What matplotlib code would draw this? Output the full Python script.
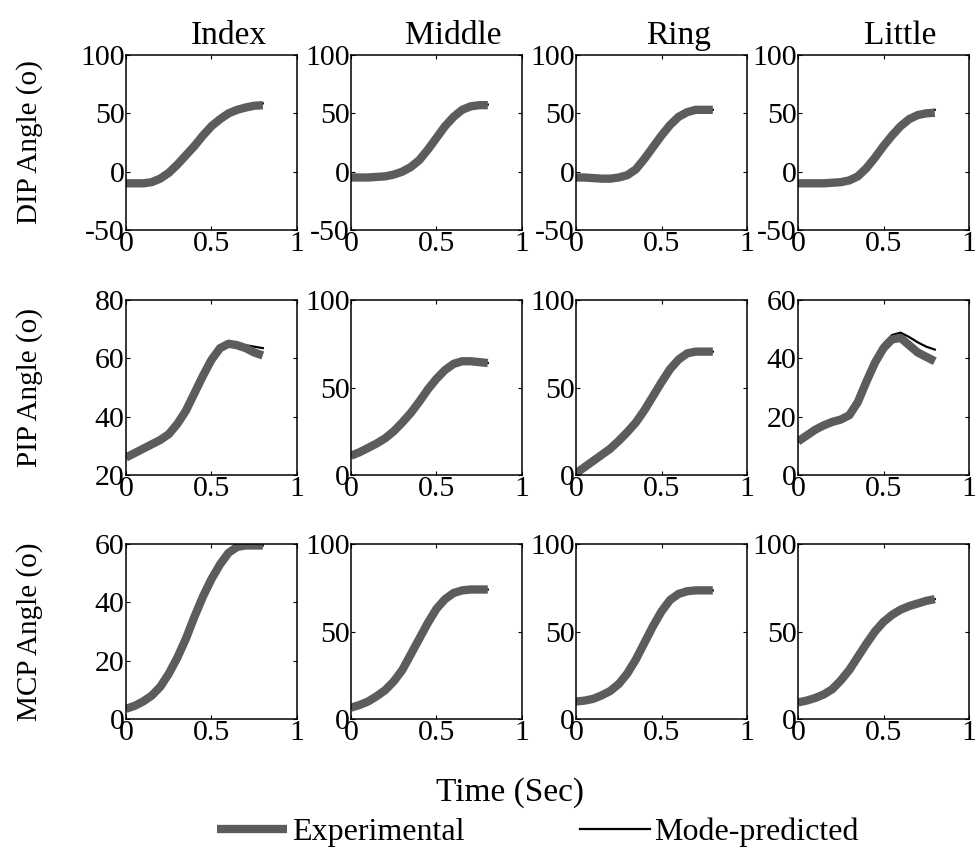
#!/usr/bin/env python3
"""
finger joint angles: experimental vs mode-predicted
"""
import numpy as np
import matplotlib
matplotlib.use('Agg')
import matplotlib.pyplot as plt
from matplotlib.lines import Line2D

plt.rcParams['font.family'] = 'serif'
plt.rcParams['font.serif'] = ['Liberation Serif', 'DejaVu Serif']
plt.rcParams['axes.unicode_minus'] = False

FS_TICK = 21.5
FS_TITLE = 24
FS_YLAB = 21
FS_XLAB = 24
FS_LEG = 23

time = [0.0, 0.05, 0.1, 0.15, 0.2, 0.25, 0.3, 0.35, 0.4,
        0.45, 0.5, 0.55, 0.6, 0.65, 0.7, 0.75, 0.8]

fingers = ['Index', 'Middle', 'Ring', 'Little']
joints = ['DIP', 'PIP', 'MCP']

# DIP angles (deg)
dip_index_exp = [-10, -10, -10, -9, -6, -1, 6, 14, 22, 31, 39, 45, 50, 53, 55, 56.5, 57]
dip_index_pred = [-10, -10, -10, -9, -6, -1, 6, 14, 22, 31, 39, 45, 50, 53, 55.5, 57.5, 58.5]
dip_middle_exp = [-5, -5, -5, -4.5, -4, -2.5, 0, 4, 10, 19, 29, 39, 47, 53, 56, 57, 57]
dip_middle_pred = [-5, -5, -5, -4.5, -4, -2.5, 0, 4, 10, 19, 29, 39, 47, 53, 56, 57, 57.5]
dip_ring_exp = [-5, -5, -5.5, -6, -6, -5, -3, 2, 11, 21, 31, 40, 47, 51, 53, 53, 53]
dip_ring_pred = [-5, -5, -5.5, -6, -6, -5, -3, 2, 11, 21, 31, 40, 47, 51, 53, 53, 53]
dip_little_exp = [-10, -10, -10, -10, -9.5, -9, -7.5, -4, 3, 12, 22, 31, 39, 45, 48.5, 50, 50.5]
dip_little_pred = [-10, -10, -10, -10, -9.5, -9, -7.5, -4, 3, 12, 22, 31, 39, 45, 49.5, 52, 53]

# PIP angles (deg)
pip_index_exp = [26, 27.5, 29, 30.5, 32, 34, 37.5, 42, 48, 54, 59.5, 63.5, 65, 64.5, 63.5, 62, 61]
pip_index_pred = [26, 27.5, 29, 30.5, 32, 34, 37.5, 42, 48, 54, 59.5, 63.5, 65, 65, 64.5, 64, 63.5]
pip_middle_exp = [11, 13, 15.5, 18, 21, 25, 30, 35.5, 42, 49, 55, 60, 63.5, 65, 65, 64.5, 64]
pip_middle_pred = [11, 13, 15.5, 18, 21, 25, 30, 35.5, 42, 49, 55, 60, 63.5, 65, 65, 64.5, 64]
pip_ring_exp = [1, 4.5, 8, 11.5, 15, 19.5, 24.5, 30, 37, 45, 53, 60.5, 66, 69.5, 70.5, 70.5, 70.5]
pip_ring_pred = [1, 4.5, 8, 11.5, 15, 19.5, 24.5, 30, 37, 45, 53, 60.5, 66, 69.5, 70.5, 70.5, 70.5]
pip_little_exp = [11.5, 13.5, 15.5, 17, 18.2, 19, 20.5, 25, 32, 38.5, 43.5, 46.5, 47, 44.5, 42, 40.5, 39]
pip_little_pred = [11.5, 13.5, 15.5, 17, 18.5, 19.5, 21, 25.5, 32.5, 39.5, 45, 48, 48.8, 47.3, 45.5, 44, 43]

# MCP angles (deg)
mcp_index_exp = [3.5, 4.5, 6, 8, 11, 15.5, 21, 27.5, 35, 42, 48, 53, 57, 59, 59.5, 59.5, 59.5]
mcp_index_pred = [3.5, 4.5, 6, 8, 11, 15.5, 21, 27.5, 35, 42, 48, 53, 57, 59, 59.5, 59.5, 59.5]
mcp_middle_exp = [6.5, 8, 10, 13, 16.5, 21.5, 28, 37, 46, 55, 63, 68.5, 72, 73.5, 74, 74, 74]
mcp_middle_pred = [6.5, 8, 10, 13, 16.5, 21.5, 28, 37, 46, 55, 63, 68.5, 72, 73.5, 74, 74, 74]
mcp_ring_exp = [10, 10.5, 11.5, 13.5, 16, 20, 26, 34, 43.5, 53, 61.5, 68, 71.5, 73, 73.5, 73.5, 73.5]
mcp_ring_pred = [10, 10.5, 11.5, 13.5, 16, 20, 26, 34, 43.5, 53, 61.5, 68, 71.5, 73, 73.5, 73.5, 73.5]
mcp_little_exp = [9.5, 10.5, 12, 14, 17, 22, 28, 35.5, 43, 50, 55.5, 59.5, 62.5, 64.5, 66, 67.5, 68.5]
mcp_little_pred = [9.5, 10.5, 12, 14, 17, 22, 28, 35.5, 43, 50, 55.5, 59.5, 62.5, 64.5, 66, 67.5, 68.5]

exp_data = [[dip_index_exp, dip_middle_exp, dip_ring_exp, dip_little_exp],
            [pip_index_exp, pip_middle_exp, pip_ring_exp, pip_little_exp],
            [mcp_index_exp, mcp_middle_exp, mcp_ring_exp, mcp_little_exp]]
pred_data = [[dip_index_pred, dip_middle_pred, dip_ring_pred, dip_little_pred],
             [pip_index_pred, pip_middle_pred, pip_ring_pred, pip_little_pred],
             [mcp_index_pred, mcp_middle_pred, mcp_ring_pred, mcp_little_pred]]

yticks = [[[-50, 0, 50, 100]] * 4,
          [[20, 40, 60, 80], [0, 50, 100], [0, 50, 100], [0, 20, 40, 60]],
          [[0, 20, 40, 60], [0, 50, 100], [0, 50, 100], [0, 50, 100]]]

# layout in pixels
W, H = 977, 857
col_left = [126, 351, 576, 798]
row_top = [55, 300, 544]
aw, ah = 171, 175

GRAY = '#5c5c5c'
BAND_LW = 6

fig = plt.figure(figsize=(W / 100, H / 100), dpi=100)

for r in range(3):
    for c in range(4):
        ax = fig.add_axes([col_left[c] / W, 1 - (row_top[r] + ah) / H, aw / W, ah / H])
        # predicted line underneath, thick experimental band drawn over it
        ax.plot(time, pred_data[r][c], color='black', lw=1.6)
        ax.plot(time, exp_data[r][c], color=GRAY, lw=BAND_LW, solid_capstyle='butt')
        yt = yticks[r][c]
        ax.set_ylim(yt[0], yt[-1])
        ax.set_yticks(yt)
        ax.set_xlim(0, 1)
        ax.set_xticks([0, 0.5, 1])
        ax.set_xticklabels(['0', '0.5', '1'])
        ax.tick_params(direction='in', length=3, width=0.8, top=True, right=True,
                       labelsize=FS_TICK, pad=1)
        ax.tick_params(axis='x', pad=1)
        for s in ax.spines.values():
            s.set_linewidth(1.1)
        if r == 0:
            ax.set_title(fingers[c], fontsize=FS_TITLE, x=0.6, pad=8)

for r in range(3):
    yc = row_top[r] + ah / 2
    fig.text(30 / W, 1 - yc / H, joints[r] + ' Angle (o)', rotation=90,
             ha='center', va='center', fontsize=FS_YLAB)

fig.text(510 / W, 1 - 793 / H, 'Time (Sec)', ha='center', va='center', fontsize=FS_XLAB)

handles = [Line2D([], [], color=GRAY, lw=BAND_LW, solid_capstyle='butt'),
           Line2D([], [], color='black', lw=1.6)]
fig.legend(handles, ['Experimental', 'Mode-predicted'], loc='center',
           bbox_to_anchor=(538 / W, 1 - 832 / H), ncol=2, frameon=False,
           fontsize=FS_LEG, handlelength=2.2, handletextpad=0.15, columnspacing=3.6)

fig.savefig('out.png', dpi=100)
